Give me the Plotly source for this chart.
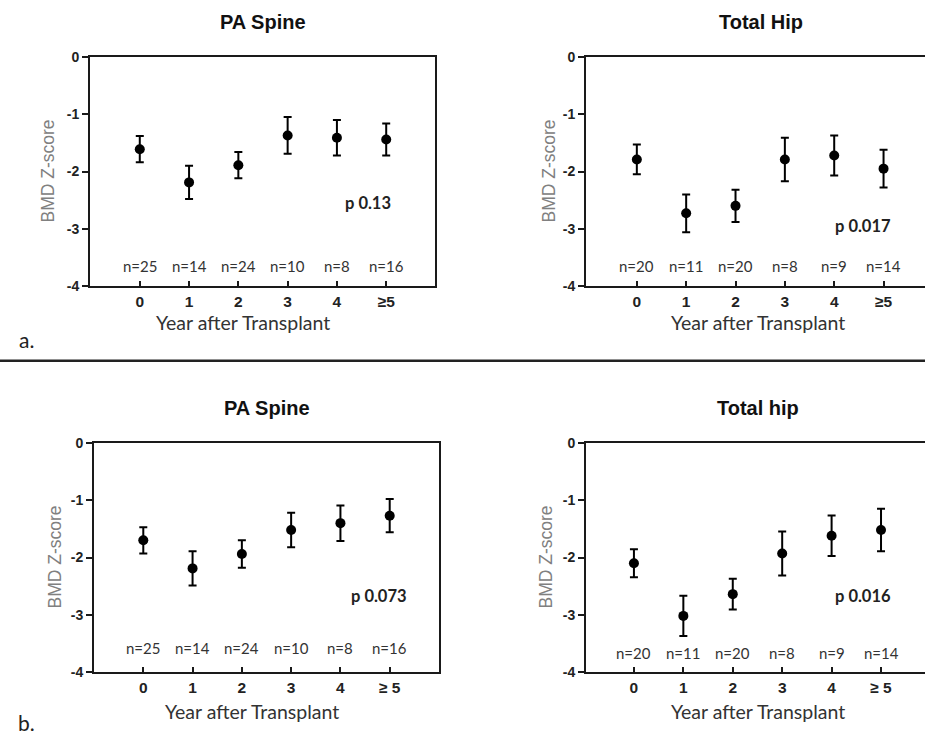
import plotly.graph_objects as go

W, H = 925, 737
PAD = 8            # the viewer shows the page starting ~8px lower
HF = H + 2 * PAD   # page/figure height that maps onto the 737px picture

years = [0, 1, 2, 3, 4, 5]
tick_top = ["0", "1", "2", "3", "4", "≥5"]
tick_bottom = ["0", "1", "2", "3", "4", "≥ 5"]

titles = ["PA Spine", "Total Hip", "PA Spine", "Total hip"]

a_spine_mean = [-1.61, -2.19, -1.89, -1.37, -1.41, -1.44]
a_spine_err = [0.23, 0.29, 0.23, 0.32, 0.31, 0.28]
a_hip_mean = [-1.79, -2.73, -2.60, -1.79, -1.72, -1.95]
a_hip_err = [0.26, 0.33, 0.28, 0.38, 0.35, 0.33]
b_spine_mean = [-1.70, -2.19, -1.94, -1.52, -1.40, -1.27]
b_spine_err = [0.23, 0.30, 0.24, 0.30, 0.31, 0.29]
b_hip_mean = [-2.10, -3.02, -2.64, -1.93, -1.62, -1.52]
b_hip_err = [0.245, 0.35, 0.27, 0.385, 0.355, 0.37]

n_spine = [25, 14, 24, 10, 8, 16]
n_hip = [20, 11, 20, 8, 9, 14]

p_values = ["p 0.13", "p 0.017", "p 0.073", "p 0.016"]

# panel geometry in pixels (left, right, top, bottom) and x ranges
panels = [
    dict(px=(90, 435), py=(57, 286), xr=(-1.01, 5.99), mean=a_spine_mean, err=a_spine_err,
         n=n_spine, ny=-3.65, p=(4.64, -2.55), ticks=tick_top, mirror_y=True,
         title_xy=(263, 22), xt=(243, 323), yt=47),
    dict(px=(586, 925), py=(57, 286), xr=(-1.03, 5.84), mean=a_hip_mean, err=a_hip_err,
         n=n_hip, ny=-3.65, p=(4.58, -2.96), ticks=tick_top, mirror_y=False,
         title_xy=(761, 22), xt=(758, 323), yt=548),
    dict(px=(94, 439), py=(443, 672), xr=(-1.0, 6.0), mean=b_spine_mean, err=b_spine_err,
         n=n_spine, ny=-3.58, p=(4.79, -2.68), ticks=tick_bottom, mirror_y=True,
         title_xy=(267, 408), xt=(252, 711), yt=54),
    dict(px=(586, 925), py=(443, 672), xr=(-0.97, 5.89), mean=b_hip_mean, err=b_hip_err,
         n=n_hip, ny=-3.67, p=(4.64, -2.68), ticks=tick_bottom, mirror_y=False,
         title_xy=(758, 408), xt=(758, 711), yt=545),
]

def fx(px):
    return px / W

def fy(py):
    return 1 - (py - PAD) / H

fig = go.Figure()
annotations = []
layout = {}
AX = "#1a1a1a"
CAL = "Lato, Carlito, Calibri, sans-serif"
ARI = "Liberation Sans, Arial, sans-serif"

for i, p in enumerate(panels):
    k = "" if i == 0 else str(i + 1)
    xa, ya = "x" + k, "y" + k
    fig.add_trace(go.Scatter(
        x=years, y=p["mean"], xaxis=xa, yaxis=ya, mode="markers",
        marker=dict(color="black", size=10),
        error_y=dict(type="data", array=p["err"], visible=True,
                     color="black", thickness=2, width=4),
        showlegend=False, cliponaxis=False))
    layout["xaxis" + k] = dict(
        domain=[fx(p["px"][0]), fx(p["px"][1])], anchor=ya, range=list(p["xr"]),
        showgrid=False, zeroline=False, showline=True, linecolor=AX, linewidth=2,
        mirror=True, ticks="inside", ticklen=5, tickwidth=2, tickcolor=AX,
        tickvals=years, ticktext=p["ticks"],
        tickfont=dict(family=ARI, size=15.5, color="#222", weight="bold"),
        fixedrange=True)
    layout["yaxis" + k] = dict(
        domain=[fy(p["py"][1]), fy(p["py"][0])], anchor=xa, range=[-4, 0],
        showgrid=False, zeroline=False, showline=True, linecolor=AX, linewidth=2,
        mirror=p["mirror_y"], ticks="outside", ticklen=6, tickwidth=2, tickcolor=AX,
        tickvals=[0, -1, -2, -3, -4], ticktext=["0", "-1", "-2", "-3", "-4"],
        tickfont=dict(family=ARI, size=14, color="#222", weight="bold"),
        fixedrange=True)
    annotations.append(dict(x=fx(p["title_xy"][0]), y=fy(p["title_xy"][1]), xref="paper",
                            yref="paper", text=titles[i], showarrow=False,
                            font=dict(family=ARI, size=20, color="#111", weight="bold"),
                            xanchor="center", yanchor="middle"))
    annotations.append(dict(x=fx(p["xt"][0]), y=fy(p["xt"][1]), xref="paper", yref="paper",
                            text="Year after Transplant", showarrow=False,
                            font=dict(family=CAL, size=19.5, color="#333"),
                            xanchor="center", yanchor="middle"))
    annotations.append(dict(x=fx(p["yt"]), y=fy((p["py"][0] + p["py"][1]) / 2),
                            xref="paper", yref="paper", text="BMD Z-score", textangle=-90,
                            showarrow=False, font=dict(family=ARI, size=17.5, color="#808080"),
                            xanchor="center", yanchor="middle"))
    for xv, nv in zip(years, p["n"]):
        annotations.append(dict(x=xv, y=p["ny"], xref=xa, yref=ya, text=f"n={nv}",
                                showarrow=False, font=dict(family=CAL, size=15, color="#333"),
                                xanchor="center", yanchor="middle"))
    annotations.append(dict(x=p["p"][0], y=p["p"][1], xref=xa, yref=ya, text=p_values[i],
                            showarrow=False,
                            font=dict(family=CAL, size=16.5, color="#222", weight="bold"),
                            xanchor="center", yanchor="middle"))

annotations.append(dict(x=fx(26), y=fy(339), xref="paper", yref="paper", text="a.",
                        showarrow=False, font=dict(family=CAL, size=21, color="#222"),
                        xanchor="center", yanchor="middle"))
annotations.append(dict(x=fx(26), y=fy(722), xref="paper", yref="paper", text="b.",
                        showarrow=False, font=dict(family=CAL, size=21, color="#222"),
                        xanchor="center", yanchor="middle"))

fig.update_layout(
    width=W, height=HF, margin=dict(l=0, r=0, t=0, b=0),
    paper_bgcolor="white", plot_bgcolor="white",
    annotations=annotations,
    shapes=[dict(type="line", xref="paper", yref="paper", x0=0, x1=1,
                 y0=fy(360.7), y1=fy(360.7), line=dict(color="#222", width=2.5))],
    **layout)

fig.write_html("out.html", config={"displayModeBar": False},
               post_script="document.body.style.margin='0';document.body.style.overflow='hidden';")
